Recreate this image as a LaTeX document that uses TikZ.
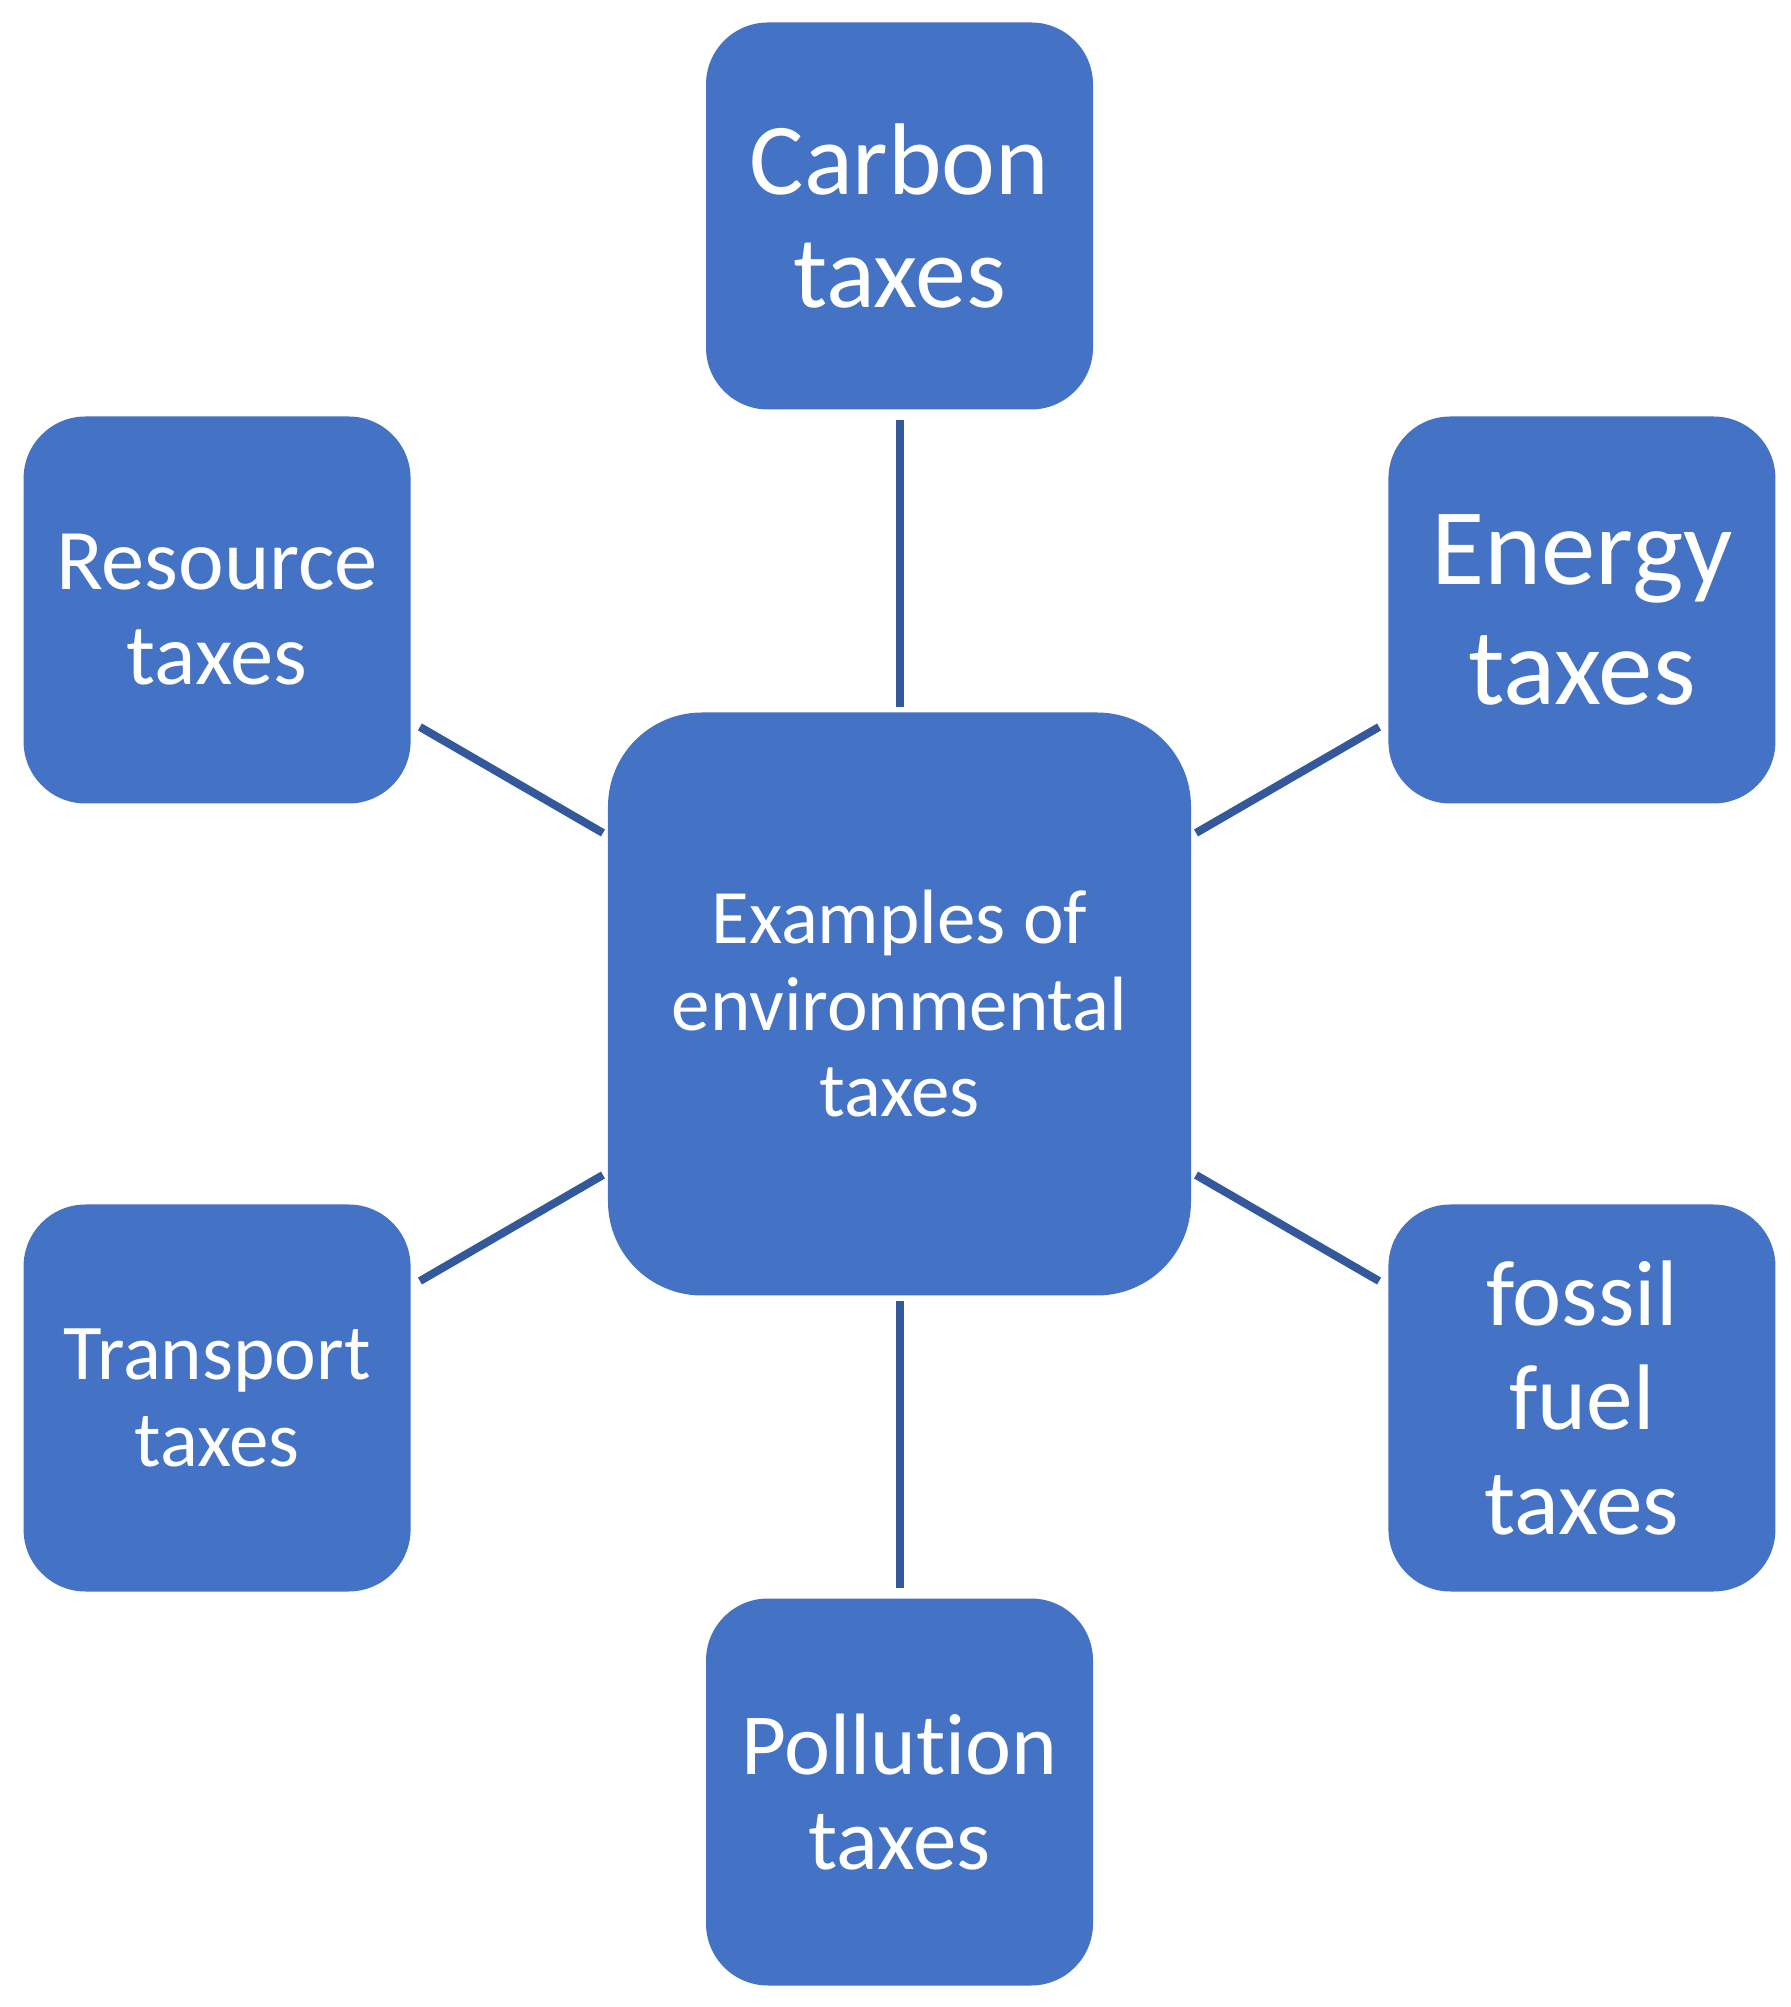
\documentclass[tikz,border=0pt]{standalone}
\usepackage{fontspec}
\setmainfont[RawFeature={-liga;-clig;-calt;-dlig}]{Carlito}
\definecolor{boxblue}{HTML}{4472C4}
\definecolor{linkblue}{HTML}{34589C}
\begin{document}
\begin{tikzpicture}
	\tikzset{leaf/.style = {shape=rectangle, rounded corners=0.62cm, fill=boxblue, text=white, minimum size=3.87cm, inner sep=0pt, align=center}}
	\tikzset{hub/.style = {leaf, rounded corners=0.94cm, minimum size=5.83cm}}
	\tikzset{link/.style = {draw=linkblue, line width=0.08cm, shorten <=0.05cm, shorten >=0.1cm}}
	\useasboundingbox (-8.995,-10.03) rectangle (8.915,10.04);
	\node[hub, font={\fontsize{21.9}{24.6}\selectfont}] (env) at (0,0) {Examples of\\environmental\\taxes};
	\node[leaf, font={\fontsize{29}{31.9}\selectfont}] (carbon) at (90:7.88) {Carbon\\taxes};
	\node[leaf, font={\fontsize{31}{34.1}\selectfont}] (energy) at (30:7.88) {Energy\\taxes};
	\node[leaf, font={\fontsize{26.5}{29.6}\selectfont}] (fossil) at (-30:7.88) {fossil\\fuel\\taxes};
	\node[leaf, font={\fontsize{24.8}{27}\selectfont}] (pollution) at (-90:7.88) {Pollut\kern0pt ion\\taxes};
	\node[leaf, font={\fontsize{22.5}{24.8}\selectfont}] (transport) at (210:7.88) {Transport\\taxes};
	\node[leaf, font={\fontsize{24.6}{27}\selectfont}] (resource) at (150:7.88) {Resource\\taxes};
	\draw[link] (env) -- (carbon);
	\draw[link] (env) -- (energy);
	\draw[link] (env) -- (fossil);
	\draw[link] (env) -- (pollution);
	\draw[link] (env) -- (transport);
	\draw[link] (env) -- (resource);
\end{tikzpicture}
\end{document}
